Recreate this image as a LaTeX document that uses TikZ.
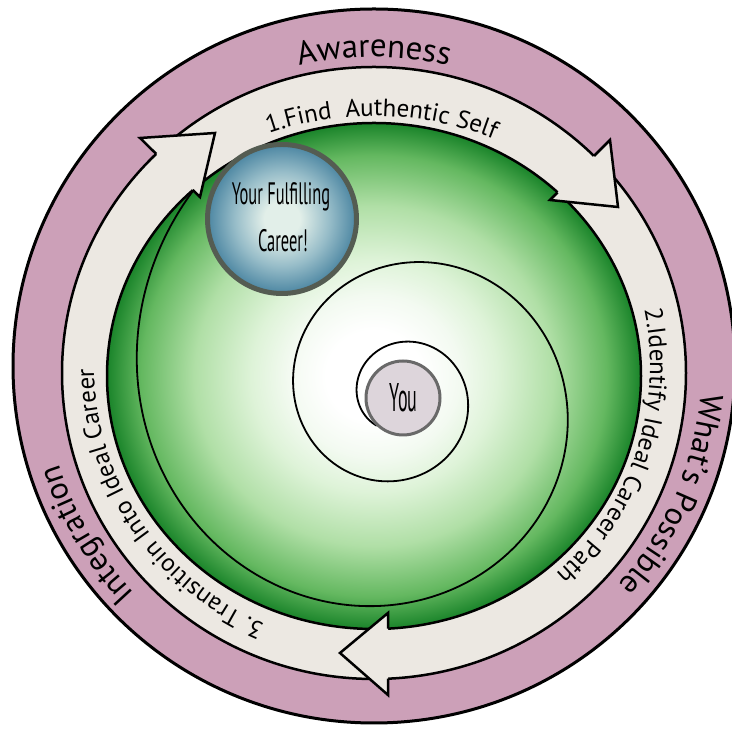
\documentclass[tikz,border=0pt]{standalone}
\usepackage{fontspec}
\setmainfont{PT Sans}
\newfontfamily\narrowfont[FakeStretch=0.53]{PT Sans}
\newfontfamily\youfont[FakeStretch=0.45]{PT Sans}
\usetikzlibrary{decorations.text}

\definecolor{ringpink}{RGB}{204,160,184}
\definecolor{bandcream}{RGB}{236,232,226}
\definecolor{gEdge}{RGB}{26,132,42}
\definecolor{gMid}{RGB}{100,184,96}
\definecolor{gLight}{RGB}{176,223,166}
\definecolor{gPale}{RGB}{222,243,216}
\definecolor{gHaze}{RGB}{243,250,241}
\definecolor{cbCore}{RGB}{226,239,233}
\definecolor{cbMid}{RGB}{150,188,200}
\definecolor{cbRim}{RGB}{76,134,162}
\definecolor{cbBorder}{RGB}{84,92,82}
\definecolor{youFill}{RGB}{221,213,219}
\definecolor{youBorder}{RGB}{105,105,105}

% green disc: white core fading to deep green at the rim
\pgfdeclareradialshading{greenball}{\pgfpoint{0bp}{0bp}}{%
  color(0bp)=(white); color(4.5bp)=(white); color(8bp)=(gHaze);
  color(11.5bp)=(gPale); color(16.8bp)=(gLight); color(21.8bp)=(gMid);
  color(25bp)=(gEdge); color(50bp)=(gEdge)}
% goal bubble: pale centre, steel-blue rim
\pgfdeclareradialshading{careerball}{\pgfpoint{0bp}{0bp}}{%
  color(0bp)=(cbCore); color(6bp)=(cbCore); color(16bp)=(cbMid);
  color(25bp)=(cbRim); color(50bp)=(cbRim)}

\begin{document}
\begin{tikzpicture}[x=1pt, y=1pt,
  ringtext/.style={decorate, decoration={text along path, text align=center, text={#1}}},
  headline/.style={line width=2.5pt, line join=miter, miter limit=10},
  spiralline/.style={line width=1.8pt},
  labelnode/.style={anchor=base, inner sep=0pt}]
\useasboundingbox (0,0) rectangle (732,730);

% ---- rings ----
\filldraw[fill=ringpink, draw=black, line width=3pt] (374,364) ellipse [x radius=361, y radius=357];
\filldraw[fill=bandcream, draw=black, line width=2.5pt] (374,357) ellipse [x radius=312, y radius=306];
\shadedraw[shading=greenball, draw=black, line width=2.5pt] (374,354) ellipse [x radius=267, y radius=253];

% ---- logarithmic spiral from "You" outwards to the goal ----
% centre (400,334), radius 43 at 180 deg, growing by 1.57 every half turn
\draw[spiralline] plot[domain=128:946, samples=260, smooth, variable=\t]
  ({400 + 43*exp(0.002506*(\t-180))*cos(\t)}, {334 - 43*exp(0.002506*(\t-180))*sin(\t)});

% ---- arrow heads of the cycle ----
% top right
\coordinate (h1n1) at (594,574);   \coordinate (h1b1) at (610,590);
\coordinate (h1t)  at (618,523);
\coordinate (h1b2) at (550,530);   \coordinate (h1n2) at (557.5,537.5);
\fill[bandcream] (h1b1) -- (h1t) -- (h1b2) -- cycle;
\draw[headline] (h1n1) -- (h1b1) -- (h1t) -- (h1b2) -- (h1n2);
% upper left
\coordinate (h3n1) at (156.2,576.1); \coordinate (h3b1) at (140,592);
\coordinate (h3t)  at (215,597);
\coordinate (h3b2) at (200,533);     \coordinate (h3n2) at (192.8,540.1);
\fill[bandcream] (h3b1) -- (h3t) -- (h3b2) -- cycle;
\draw[headline] (h3n1) -- (h3b1) -- (h3t) -- (h3b2) -- (h3n2);
% bottom
\coordinate (h2n1) at (388,51.3);  \coordinate (h2b1) at (388,35);
\coordinate (h2t)  at (340,77);
\coordinate (h2b2) at (388,117);   \coordinate (h2n2) at (388,101.3);
\fill[bandcream] (h2b1) -- (h2t) -- (h2b2) -- cycle;
\draw[headline] (h2n1) -- (h2b1) -- (h2t) -- (h2b2) -- (h2n2);

% ---- outer ring words ----
\path[ringtext={|\fontsize{33}{38}\selectfont|Awareness}]
  ([shift={(374,364)}]135:309) arc[start angle=135, end angle=45, radius=309];
\path[ringtext={|\fontsize{32}{38}\selectfont|What's Possible}]
  ([shift={(374,364)}]21.7:328) arc[start angle=21.7, end angle=-68.3, radius=328];
\path[ringtext={|\fontsize{32}{38}\selectfont|Integration}]
  ([shift={(374,364)}]255.4:330) arc[start angle=255.4, end angle=165.4, radius=330];

% ---- step words on the arrows ----
\path[ringtext={|\fontsize{25}{30}\selectfont|1.Find {~}Authentic Self}]
  ([shift={(374,357)}]133.4:290 and 257) arc[start angle=133.4, end angle=43.4, x radius=290, y radius=257];
\path[ringtext={|\fontsize{25}{30}\selectfont|2.Identify Ideal Career Path}]
  ([shift={(374,364)}]26.5:276) arc[start angle=26.5, end angle=-63.5, radius=276];
\path[ringtext={|\fontsize{25}{30}\selectfont|3. Transitioin Into Ideal Career}]
  ([shift={(374,364)}]258.9:280) arc[start angle=258.9, end angle=168.9, radius=280];

% ---- goal bubble ----
\shadedraw[shading=careerball, draw=cbBorder, line width=5pt] (282,511) circle[radius=74.5];
\node[labelnode, font=\narrowfont\fontsize{31}{36}\selectfont] (careerA) at (281,525) {Your Fulfilling};
\node[labelnode, font=\narrowfont\fontsize{31}{36}\selectfont] (careerB) at (283,478) {Career!};

% ---- centre ----
\filldraw[fill=youFill, draw=youBorder, line width=3pt] (403,332) circle[radius=37];
\node[labelnode, font=\youfont\fontsize{40}{44}\selectfont] (you) at (403.5,318) {You};
\end{tikzpicture}
\end{document}
